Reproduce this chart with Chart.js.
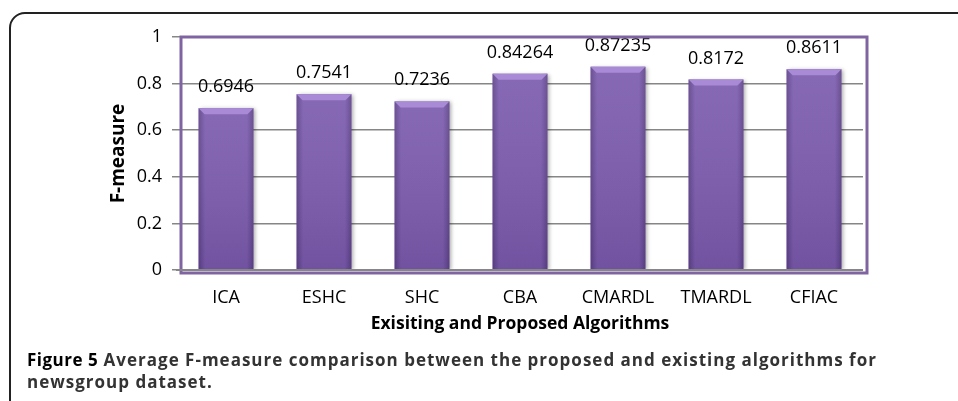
<!DOCTYPE html>
<html>
<head>
<meta charset="utf-8">
<script src="https://cdn.jsdelivr.net/npm/chart.js@4.4.1/dist/chart.umd.min.js"></script>
<style>
  html, body { margin: 0; padding: 0; background: #fff; }
  body { width: 958px; height: 401px; position: relative; overflow: hidden; }
  #frame {
    position: absolute; left: 9px; top: 12px; width: 990px; height: 430px;
    border: 2px solid #222; border-radius: 16px; box-sizing: border-box;
  }
  #chart { position: absolute; left: 0; top: 0; }
  #caption {
    position: absolute; left: 27px; top: 349px;
    font-family: "Open Sans", sans-serif; font-size: 17px; line-height: 22px;
    font-weight: 700; color: #333; white-space: nowrap; letter-spacing: 1px;
  }
  #caption b { color: #000; font-weight: 700; letter-spacing: 0.5px; }
</style>
</head>
<body>
<div id="frame"></div>
<canvas id="chart" width="958" height="401"></canvas>
<div id="caption"><b>Figure 5</b> Average F-measure comparison between the proposed and existing algorithms for<br>newsgroup dataset.</div>
<script>
"use strict";

const categories = ["ICA", "ESHC", "SHC", "CBA", "CMARDL", "TMARDL", "CFIAC"];
const fMeasure = [0.6946, 0.7541, 0.7236, 0.84264, 0.87235, 0.8172, 0.8611];
const yTickLabels = ["0", "0.2", "0.4", "0.6", "0.8", "1"];

const FONT = "'Open Sans', sans-serif";
const PURPLE = "#8064a2";

const barShadow = {
  id: "barShadow",
  beforeDatasetDraw(chart) {
    const ctx = chart.ctx;
    ctx.save();
    ctx.shadowColor = "rgba(0,0,0,0.35)";
    ctx.shadowBlur = 4;
    ctx.shadowOffsetX = 2;
    ctx.shadowOffsetY = 1;
  },
  afterDatasetDraw(chart) {
    chart.ctx.restore();
  }
};

// bevel look + value labels, using the bar elements' own geometry
const barDecor = {
  id: "barDecor",
  afterDatasetsDraw(chart) {
    const ctx = chart.ctx;
    const meta = chart.getDatasetMeta(0);
    const values = chart.data.datasets[0].data;

    meta.data.forEach((bar, i) => {
      const { x, y, base, width } = bar.getProps(["x", "y", "base", "width"], true);
      const l = x - width / 2;
      const r = x + width / 2;
      const b = 6;

      ctx.save();
      const side = ctx.createLinearGradient(l, 0, r, 0);
      side.addColorStop(0, "rgba(40,20,70,0.35)");
      side.addColorStop(0.12, "rgba(40,20,70,0)");
      side.addColorStop(0.88, "rgba(40,20,70,0)");
      side.addColorStop(1, "rgba(40,20,70,0.35)");
      ctx.fillStyle = side;
      ctx.fillRect(l, y, width, base - y);

      const vert = ctx.createLinearGradient(0, y, 0, base);
      vert.addColorStop(0, "rgba(255,255,255,0.08)");
      vert.addColorStop(1, "rgba(30,10,60,0.12)");
      ctx.fillStyle = vert;
      ctx.fillRect(l, y, width, base - y);

      ctx.beginPath();
      ctx.moveTo(l, y);
      ctx.lineTo(r, y);
      ctx.lineTo(r - b, y + b);
      ctx.lineTo(l + b, y + b);
      ctx.closePath();
      ctx.fillStyle = "#a98ad6";
      ctx.fill();

      ctx.fillStyle = "#000";
      ctx.font = "18px " + FONT;
      ctx.textAlign = "center";
      ctx.textBaseline = "alphabetic";
      ctx.fillText(String(values[i]), x, y - 16);
      ctx.restore();
    });
  }
};

// purple plot-area border
const plotBorder = {
  id: "plotBorder",
  afterDraw(chart) {
    const { left, right, top, bottom } = chart.chartArea;
    const ctx = chart.ctx;
    ctx.save();
    ctx.strokeStyle = PURPLE;
    ctx.lineWidth = 3;
    ctx.strokeRect(left + 4, top, right - left, bottom - top + 3);
    ctx.strokeStyle = "#868686";
    ctx.lineWidth = 2;
    ctx.beginPath();
    ctx.moveTo(left - 1, bottom);
    ctx.lineTo(right, bottom);
    ctx.stroke();
    ctx.restore();
  }
};

new Chart(document.getElementById("chart"), {
  type: "bar",
  data: {
    labels: categories,
    datasets: [{
      label: "F-measure",
      data: fMeasure,
      backgroundColor: "#7c5cae",
      borderWidth: 0,
      categoryPercentage: 1,
      barPercentage: 0.56
    }]
  },
  options: {
    responsive: false,
    animation: false,
    devicePixelRatio: 1,
    layout: { padding: { left: 100, top: 37, right: 95, bottom: 66 } },
    plugins: {
      legend: { display: false },
      tooltip: { enabled: false }
    },
    scales: {
      x: {
        grid: { display: false, drawTicks: false, tickLength: 0 },
        border: { display: false },
        ticks: { font: { family: FONT, size: 18 }, color: "#000", padding: 17 },
        title: {
          display: true,
          text: "Exisiting and Proposed Algorithms",
          font: { family: FONT, size: 17.5, weight: "bold" },
          color: "#000",
          padding: { top: 0, bottom: 0 }
        },
        afterFit(scale) { scale.height = 65; }
      },
      y: {
        min: 0,
        max: 1,
        grid: { color: "#868686", lineWidth: 1.5, tickLength: 5 },
        border: { display: false },
        ticks: {
          stepSize: 0.2,
          font: { family: FONT, size: 18 },
          color: "#000",
          padding: 10,
          callback: (value, index) => yTickLabels[index]
        },
        title: {
          display: true,
          text: "F-measure",
          font: { family: FONT, size: 19, weight: "bold" },
          color: "#000",
          padding: { top: 7, bottom: 0 }
        },
        afterFit(scale) { scale.width = 77; }
      }
    }
  },
  plugins: [barShadow, barDecor, plotBorder]
});
</script>
</body>
</html>
